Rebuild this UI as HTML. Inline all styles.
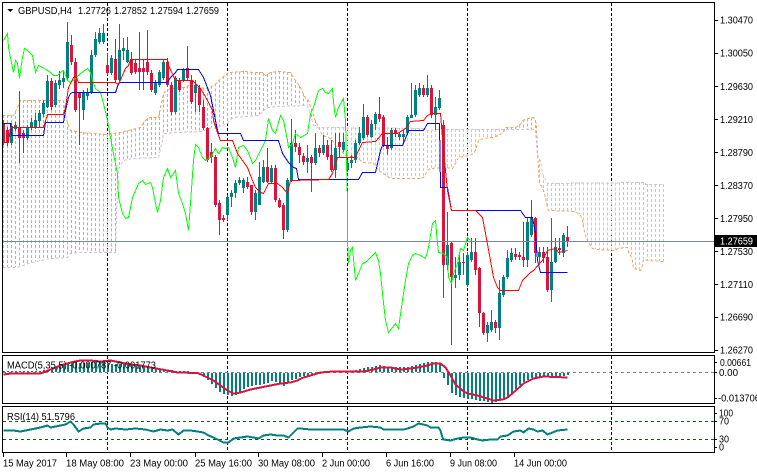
<!DOCTYPE html>
<html><head><meta charset="utf-8">
<style>
html,body{margin:0;padding:0;background:#fff;}
svg{display:block;}
text{font-family:"Liberation Sans","DejaVu Sans",sans-serif;font-size:10px;fill:#000;}
</style></head><body>
<svg id="c" width="757" height="474" viewBox="0 0 757 474" xmlns="http://www.w3.org/2000/svg" shape-rendering="crispEdges">
<rect width="757" height="474" fill="#fff"/>
<g id="g"></g>
<g id="fr" fill="none" stroke="#000" stroke-width="1">
<rect x="2.5" y="2.5" width="712" height="350"/>
<rect x="2.5" y="355.5" width="712" height="48"/>
<rect x="2.5" y="406.5" width="712" height="46"/>
</g>
<polygon points="7,9 13,9 10,12" fill="#000"/>
<text x="18" y="14" textLength="54" lengthAdjust="spacingAndGlyphs">GBPUSD,H4</text>
<text x="78" y="14" textLength="33" lengthAdjust="spacingAndGlyphs">1.27726</text>
<text x="114" y="14" textLength="33" lengthAdjust="spacingAndGlyphs">1.27852</text>
<text x="150" y="14" textLength="33" lengthAdjust="spacingAndGlyphs">1.27594</text>
<text x="186" y="14" textLength="33" lengthAdjust="spacingAndGlyphs">1.27659</text>
<g id="ax"></g>
<text x="720" y="23.5" textLength="33" lengthAdjust="spacingAndGlyphs">1.30470</text>
<text x="720" y="56.5" textLength="33" lengthAdjust="spacingAndGlyphs">1.30050</text>
<text x="720" y="89.8" textLength="33" lengthAdjust="spacingAndGlyphs">1.29630</text>
<text x="720" y="122.8" textLength="33" lengthAdjust="spacingAndGlyphs">1.29210</text>
<text x="720" y="155.8" textLength="33" lengthAdjust="spacingAndGlyphs">1.28790</text>
<text x="720" y="188.8" textLength="33" lengthAdjust="spacingAndGlyphs">1.28370</text>
<text x="720" y="222.2" textLength="33" lengthAdjust="spacingAndGlyphs">1.27950</text>
<text x="720" y="255.2" textLength="33" lengthAdjust="spacingAndGlyphs">1.27530</text>
<text x="720" y="287.8" textLength="33" lengthAdjust="spacingAndGlyphs">1.27110</text>
<text x="720" y="320.5" textLength="33" lengthAdjust="spacingAndGlyphs">1.26690</text>
<text x="720" y="353.5" textLength="33" lengthAdjust="spacingAndGlyphs">1.26270</text>
<rect x="715" y="235" width="42" height="12" fill="#000"/>
<text x="720" y="244.5" textLength="33" lengthAdjust="spacingAndGlyphs" style="fill:#fff">1.27659</text>
<text x="720" y="366" textLength="31" lengthAdjust="spacingAndGlyphs">0.00661</text>
<text x="719" y="376" textLength="19" lengthAdjust="spacingAndGlyphs">0.00</text>
<text x="718" y="401.5" textLength="42" lengthAdjust="spacingAndGlyphs">-0.013706</text>
<text x="719" y="416.5" textLength="14" lengthAdjust="spacingAndGlyphs">100</text>
<text x="719" y="424.5" textLength="10" lengthAdjust="spacingAndGlyphs">70</text>
<text x="719" y="442.5" textLength="10" lengthAdjust="spacingAndGlyphs">30</text>
<text x="719" y="450.5" textLength="5" lengthAdjust="spacingAndGlyphs">0</text>
<text x="7" y="368.5" textLength="149" lengthAdjust="spacingAndGlyphs">MACD(5,35,5) -0.000787 -0.001773</text>
<text x="7" y="420" textLength="68" lengthAdjust="spacingAndGlyphs">RSI(14) 51.5796</text>
<text x="3" y="466.5" textLength="54" lengthAdjust="spacingAndGlyphs">15 May 2017</text>
<text x="66" y="466.5" textLength="58" lengthAdjust="spacingAndGlyphs">18 May 08:00</text>
<text x="130" y="466.5" textLength="58" lengthAdjust="spacingAndGlyphs">23 May 00:00</text>
<text x="195" y="466.5" textLength="57" lengthAdjust="spacingAndGlyphs">25 May 16:00</text>
<text x="258" y="466.5" textLength="57" lengthAdjust="spacingAndGlyphs">30 May 08:00</text>
<text x="322" y="466.5" textLength="48" lengthAdjust="spacingAndGlyphs">2 Jun 00:00</text>
<text x="386" y="466.5" textLength="48" lengthAdjust="spacingAndGlyphs">6 Jun 16:00</text>
<text x="450" y="466.5" textLength="47" lengthAdjust="spacingAndGlyphs">9 Jun 08:00</text>
<text x="514" y="466.5" textLength="53" lengthAdjust="spacingAndGlyphs">14 Jun 00:00</text>
</svg>
<script>
(function(){
var NS="http://www.w3.org/2000/svg";
var g=document.getElementById('g');
var ax=document.getElementById('ax');
function el(tag,a,parent){var e=document.createElementNS(NS,tag);for(var k in a)e.setAttribute(k,a[k]);(parent||g).appendChild(e);return e;}
function pts(P){return P.map(function(p){return (p[0]+0.5)+','+(p[1]+0.5);}).join(' ');}
function interp(P,x){if(x<=P[0][0])return P[0][1];for(var i=1;i<P.length;i++){if(x<=P[i][0]){var a=P[i-1],b=P[i];if(b[0]===a[0])return b[1];return a[1]+(b[1]-a[1])*(x-a[0])/(b[0]-a[0]);}}return P[P.length-1][1];}
function line(P,color,w,dash){var a={points:pts(P),fill:'none',stroke:color,'stroke-width':w||1};if(dash)a['stroke-dasharray']=dash;return el('polyline',a);}

// vertical dashed separators
var VX=[107,227,347,467,611];
VX.forEach(function(x){
  [[3,352],[356,403],[407,452]].forEach(function(r){
    el('line',{x1:x+0.5,y1:r[0],x2:x+0.5,y2:r[1],stroke:'#000','stroke-dasharray':'3 2'});
  });
});

// Ichimoku cloud
var A=[[2,115],[13,115],[17,107],[20,100],[63,100],[65,115],[68,125],[70,130],[80,132],[107,134],[120,132],[140,127],[143,122],[147,118],[150,117],[158,117],[162,97],[165,90],[170,88],[185,87],[188,85],[195,87],[207,88],[213,85],[217,82],[220,78],[225,75],[228,72],[245,71],[252,72],[262,72],[265,75],[270,72],[277,71],[290,72],[293,77],[300,87],[305,98],[308,100],[312,112],[315,120],[318,127],[322,135],[328,137],[332,140],[335,145],[340,150],[345,155],[357,157],[362,162],[373,163],[378,170],[383,173],[390,178],[420,178],[423,177],[427,170],[430,168],[445,167],[452,168],[455,163],[458,157],[468,155],[473,153],[475,150],[478,140],[483,138],[492,137],[498,135],[503,132],[505,127],[515,127],[520,124],[522,120],[528,118],[533,117],[535,120],[536,127],[537,150],[539,183],[542,187],[545,197],[547,207],[548,210],[575,211],[580,215],[582,220],[583,227],[585,235],[587,240],[590,245],[592,248],[595,249],[615,250],[617,248],[627,247],[628,252],[630,255],[632,260],[633,268],[640,270],[642,265],[643,259],[647,260],[663,261]];
var B=[[2,267],[17,267],[28,263],[32,262],[50,258],[67,257],[70,253],[77,252],[115,252],[117,180],[118,170],[120,165],[123,160],[133,158],[158,157],[162,140],[163,133],[178,132],[202,131],[208,128],[217,127],[222,125],[227,123],[230,119],[233,117],[245,116],[258,115],[263,110],[268,107],[275,106],[307,105],[310,115],[313,125],[317,127],[423,128],[427,130],[430,130],[435,129],[535,129],[537,157],[540,160],[542,173],[547,183],[645,182],[645,184],[663,184]];
var dS='',dT='';
for(var x=3;x<=663;x+=4){
  var a=interp(A,x),b=interp(B,x);var t=Math.min(a,b),bt=Math.max(a,b);
  if(bt-t<1)continue;
  var s='M'+(x+0.5)+' '+t+'V'+bt;
  if(a<b)dS+=s;else dT+=s;
}
el('path',{d:dS,stroke:'#F4A460',fill:'none','stroke-dasharray':'3 2'});
el('path',{d:dT,stroke:'#D8BFD8',fill:'none','stroke-dasharray':'3 2'});
line(A,'#F4A460',1,'3 2');
line(B,'#D8BFD8',1,'3 2');

// candles [bodyTop, bodyBot, wickTop, wickBot, up]
var C=[
[124,142,120,145,0],[130,143,127,146,0],[126,143,123,145,1],[125,129,122,131,1],[128,138,91,163,0],[133,138,130,153,0],[128,138,125,140,1],[122,128,118,130,1],[120,128,113,129,1],[113,121,110,128,1],
[103,114,100,117,1],[81,107,75,108,1],[81,107,78,110,0],[83,105,80,107,1],[80,85,71,89,1],[78,82,70,88,1],[42,78,22,80,1],[45,62,35,65,0],[62,110,58,112,0],[93,98,93,145,0],
[92,110,90,120,1],[92,96,88,100,1],[55,92,50,94,1],[39,55,32,57,1],[33,42,28,44,1],[33,42,24,44,1],[65,73,53,75,0],[58,73,55,75,1],[59,80,39,82,0],[50,80,24,82,1],
[48,51,38,60,1],[50,62,37,63,1],[60,73,52,75,0],[63,72,60,74,0],[68,72,32,90,0],[68,72,60,90,0],[62,72,30,75,0],[73,90,70,92,0],[83,93,80,95,1],[72,85,70,87,1],
[62,78,60,80,1],[62,85,58,87,0],[85,112,82,115,0],[78,112,76,114,1],[80,90,78,92,0],[70,80,68,82,1],[68,78,46,80,0],[80,102,75,104,0],[85,93,80,112,1],[88,105,85,112,0],
[107,128,100,130,0],[128,160,127,162,0],[152,157,143,163,0],[157,205,155,207,0],[203,220,200,235,0],[218,220,215,222,0],[197,215,195,220,1],[193,197,190,207,1],[183,193,180,198,1],[180,183,177,185,1],
[180,188,178,193,1],[182,187,177,189,0],[185,212,185,215,0],[193,212,190,220,1],[177,205,162,205,1],[167,182,160,183,1],[167,182,148,183,0],[168,182,165,183,1],[168,200,165,202,0],[200,207,198,208,0],
[205,230,203,239,0],[180,230,178,232,1],[143,180,119,182,1],[143,147,130,152,0],[147,155,143,163,0],[156,162,153,165,0],[158,162,145,173,1],[157,163,155,192,0],[148,163,133,165,1],[148,153,145,157,0],
[145,153,135,155,1],[145,157,140,160,0],[155,170,140,172,0],[148,170,133,178,1],[142,147,133,157,0],[142,150,133,152,1],[163,170,160,172,1],[160,163,155,168,1],[143,160,140,163,1],[133,143,127,145,1],
[117,138,104,140,1],[117,135,115,137,0],[124,137,120,138,1],[114,124,112,130,1],[114,119,97,122,0],[117,145,115,147,0],[145,149,137,155,0],[130,148,128,150,1],[130,134,128,137,0],[134,137,132,140,1],
[134,137,130,143,1],[117,133,115,135,1],[115,118,83,118,1],[90,115,85,117,1],[88,95,83,97,1],[88,95,85,97,0],[88,95,75,97,1],[88,115,85,118,0],[107,115,97,130,1],[98,108,90,110,1],
[125,265,120,298,0],[245,265,212,270,1],[243,277,242,345,0],[275,278,257,288,1],[262,275,253,280,1],[262,263,253,275,0],[255,285,252,287,1],[252,260,238,262,1],[252,270,238,275,0],[268,313,267,327,0],
[313,333,312,335,0],[325,333,322,342,1],[322,330,310,332,1],[322,328,320,333,0],[293,328,280,340,1],[277,295,275,297,1],[258,277,250,279,1],[253,260,248,262,1],[254,257,248,260,0],[255,257,252,260,0],
[257,260,222,267,0],[222,260,218,267,1],[218,235,200,237,1],[218,253,217,263,0],[252,257,247,263,1],[252,258,247,263,0],[257,290,247,292,0],[262,290,218,302,1],[247,262,238,263,1],[248,250,238,255,0],
[235,253,233,257,1],[237,242,226,247,0]];
var BULL='#008080',BEAR='#DC143C';
C.forEach(function(c,i){
  var cx=3+4*i,col=c[4]?BULL:BEAR;
  el('rect',{x:cx,y:c[2],width:1,height:Math.max(1,c[3]-c[2]),fill:col});
  el('rect',{x:cx-1,y:c[0],width:3,height:Math.max(1,c[1]-c[0]),fill:col});
});

// bid line
el('line',{x1:3,y1:241.5,x2:714,y2:241.5,stroke:'#778899'});

// lines
var G=[[3,40],[7,33],[8,47],[12,67],[13,72],[15,60],[17,63],[19,78],[22,57],[24,48],[27,50],[32,55],[35,72],[38,65],[42,67],[47,70],[50,72],[53,75],[57,75],[60,72],[63,70],[67,80],[70,82],[75,78],[80,73],[87,68],[90,72],[92,80],[95,88],[100,92],[103,103],[107,120],[110,137],[113,153],[117,173],[118,197],[122,213],[125,218],[128,217],[132,197],[135,190],[138,183],[142,180],[145,184],[150,182],[152,187],[155,203],[157,212],[160,200],[163,177],[167,168],[170,177],[173,173],[175,170],[178,193],[182,203],[185,213],[188,230],[190,203],[193,160],[195,144],[198,147],[202,157],[205,160],[210,157],[215,148],[218,153],[222,147],[225,148],[228,147],[232,157],[235,167],[238,147],[243,145],[247,150],[252,163],[255,160],[260,150],[265,140],[268,118],[272,130],[275,133],[280,115],[283,120],[287,140],[288,147],[292,143],[295,133],[300,137],[307,133],[310,113],[313,107],[318,90],[322,88],[325,92],[328,93],[332,88],[333,102],[335,117],[338,107],[343,98],[345,120],[346,160],[347,200],[347,240],[348,263],[350,250],[352,247],[355,280],[358,273],[362,263],[365,262],[370,257],[375,252],[378,260],[380,273],[382,293],[385,320],[388,332],[392,327],[395,323],[398,328],[402,300],[405,280],[408,263],[412,255],[415,253],[420,255],[425,258],[428,247],[432,223],[435,220],[437,243],[438,252],[443,253],[447,257],[448,277],[451,283],[453,273],[457,263],[460,248],[463,250],[467,237],[470,240]];
var K=[[3,123],[10,123],[11,135],[43,135],[45,122],[63,122],[65,110],[68,97],[70,93],[72,92],[115,92],[118,83],[120,82],[167,82],[170,77],[175,72],[177,69],[198,69],[203,77],[210,95],[213,110],[217,130],[218,133],[240,133],[243,140],[278,140],[282,153],[288,162],[293,167],[296,168],[298,179],[358,179],[362,172],[375,172],[380,150],[382,145],[402,145],[405,138],[408,130],[423,130],[427,123],[439,123],[440,187],[447,187],[451,210],[520,210],[525,217],[532,217],[535,233],[537,260],[540,272],[567,272]];
var T=[[3,142],[8,142],[10,127],[43,127],[47,114],[63,114],[65,107],[68,87],[73,77],[76,77],[78,82],[115,82],[118,84],[125,68],[128,65],[130,59],[167,59],[168,65],[175,80],[192,80],[200,88],[203,93],[207,100],[212,110],[213,120],[217,132],[220,140],[232,140],[237,153],[242,160],[247,167],[252,180],[255,187],[260,192],[263,193],[268,183],[277,183],[282,187],[287,193],[290,180],[328,179],[332,173],[337,157],[355,157],[357,152],[362,142],[375,141],[382,133],[397,133],[405,128],[410,121],[423,120],[427,115],[432,113],[440,113],[443,150],[447,190],[451,210],[475,210],[482,217],[485,233],[490,260],[493,277],[497,287],[500,290],[518,290],[522,280],[530,272],[533,270],[542,260],[547,250],[555,248],[558,252],[567,250]];
line(G,'#00FF00',1);
line(K,'#0000FF',1);
line(T,'#FF0000',1);

// MACD
el('line',{x1:3,y1:372.5,x2:714,y2:372.5,stroke:'#808080','stroke-dasharray':'3 3'});
var H=[1,1,1,1,1,1,1,1,1,1, 2,2,3,4,6,7,9,10,10,9, 9,9,10,11,11,10,9,8,8,8, 8,7,7,7,6,5,5,4,4,3, 3,2,2,1,1,1,1,0,-1,-2, -4,-7,-11,-15,-19,-21,-22,-23,-22,-19, -16,-14,-13,-12,-12,-11,-10,-8,-9,-11, -13,-9,-7,-6,-4,-3,-3,-2,-1,-1, 0,1,0,1,0,1,0,1,2,3, 4,5,5,6,7,6,5,5,5,5, 5,5,6,7,8,9,10,10,10,9, -5,-12,-20,-22,-24,-25,-26,-26,-27,-28, -28,-29,-30,-29,-28,-27,-25,-21,-16,-12, -9,-7,-5,-4,-4,-3,-3,-4,-4,-3, -3,-2];
H.forEach(function(h,i){
  var cx=3+4*i;if(h===0)return;
  if(h>0)el('rect',{x:cx,y:372-h,width:2,height:h,fill:'#008080'});
  else el('rect',{x:cx,y:373,width:2,height:-h,fill:'#008080'});
});
var S=[[3,374],[10,373],[40,373],[50,369],[60,365],[70,362],[80,360],[90,360],[100,361],[110,360],[120,362],[130,364],[140,365],[150,367],[167,370],[177,372],[197,372.5],[203,375],[213,380],[220,385],[227,390],[233,393],[240,392],[250,389],[260,387],[270,385],[280,383],[290,382],[297,380],[303,377],[310,375],[320,372],[333,371],[363,371],[373,369],[380,367],[390,367],[400,369],[410,368],[417,367],[427,365],[433,363],[440,363],[445,367],[450,375],[455,384],[462,390],[467,393],[477,395],[487,398],[493,400],[502,399],[507,397],[513,392],[523,383],[533,378],[543,376],[567,377]];
line(S,'#DC143C',2);

// RSI
el('line',{x1:3,y1:421.5,x2:714,y2:421.5,stroke:'#006400','stroke-dasharray':'3 3'});
el('line',{x1:3,y1:439.5,x2:714,y2:439.5,stroke:'#006400','stroke-dasharray':'3 3'});
var R=[[3,430],[13,430],[20,431],[30,429],[40,427],[47,425],[50,427],[55,426],[65,424],[70,421],[73,424],[78,431],[83,428],[90,427],[93,424],[100,423],[105,423],[107,427],[110,429],[115,428],[125,429],[135,428],[145,429],[153,431],[160,429],[167,430],[172,429],[178,434],[183,430],[190,430],[197,431],[203,432],[208,435],[213,437],[217,439],[223,442],[228,442],[233,438],[240,437],[247,436],[253,437],[258,438],[263,435],[270,434],[277,435],[283,435],[288,437],[292,433],[297,428],[300,428],[310,429],[320,429],[333,429],[343,429],[348,431],[353,428],[360,427],[370,426],[380,427],[383,429],[390,429],[403,429],[407,428],[413,426],[418,423],[423,424],[427,425],[430,427],[438,427],[440,430],[442,437],[443,439],[450,440],[457,438],[463,437],[470,437],[477,439],[482,440],[490,439],[497,439],[500,436],[507,435],[513,431],[520,430],[523,432],[528,428],[533,429],[537,431],[542,430],[547,434],[552,432],[557,430],[567,429]];
line(R,'#008080',2);

// axis ticks
[20,53,86,119,152,185,218,251,284,317,350].forEach(function(y){
  el('line',{x1:714,y1:y+0.5,x2:718,y2:y+0.5,stroke:'#000'},ax);
});
[362,372,398].forEach(function(y){el('line',{x1:714,y1:y+0.5,x2:717,y2:y+0.5,stroke:'#000'},ax);});
[413,421,439,447].forEach(function(y){el('line',{x1:714,y1:y+0.5,x2:717,y2:y+0.5,stroke:'#000'},ax);});
[3,66,130,195,258,322,386,450,514].forEach(function(x){
  el('line',{x1:x+0.5,y1:453,x2:x+0.5,y2:457,stroke:'#000'},ax);
});
})();
</script>
</body></html>
